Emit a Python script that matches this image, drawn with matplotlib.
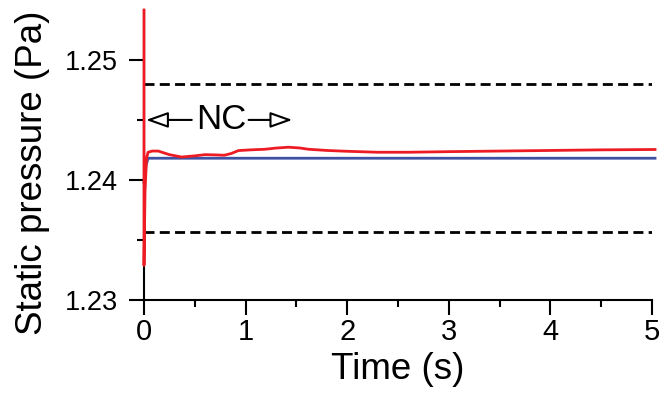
import numpy as np
import matplotlib.pyplot as plt
from matplotlib.ticker import MultipleLocator

plt.rcParams['font.family'] = ['Liberation Sans', 'DejaVu Sans']

# 시간축 (s) 및 정압 (Pa)
t_red = [0, 0, 0.01, 0.025, 0.04, 0.08, 0.14, 0.25, 0.37, 0.5, 0.6, 0.7, 0.79, 0.86,
         0.93, 1.05, 1.19, 1.3, 1.42, 1.53, 1.62, 1.8, 2.0, 2.3, 2.6, 3.0, 3.5, 4.0,
         4.5, 5.03]
p_red = [1.25418, 1.23285, 1.2390, 1.2418, 1.2423, 1.2424, 1.2424, 1.2421, 1.2419,
         1.2420, 1.2421, 1.24208, 1.24205, 1.2422, 1.24244, 1.2425, 1.24255, 1.24265,
         1.24272, 1.24266, 1.24255, 1.24245, 1.24238, 1.2423, 1.2423, 1.24235, 1.2424,
         1.24245, 1.2425, 1.24253]

t_blue = [0, 0.02, 0.04, 5.03]
p_blue = [1.2398, 1.2412, 1.2418, 1.2418]

upper_limit = 1.2480
lower_limit = 1.2356
nc_level = 1.245
nc_left, nc_right, nc_text = 0.02, 1.46, 0.76

red = '#ed1c24'
blue = '#3f51a3'

fig = plt.figure(figsize=(6.67, 4.01), dpi=100)
ax = fig.add_axes([0.2159, 0.2531, 0.7616, 0.7219])

ax.axhline(upper_limit, color='black', lw=2, ls=(0, (3.6, 1.9)))
ax.axhline(lower_limit, color='black', lw=2, ls=(0, (3.6, 1.9)))
ax.plot(t_blue, p_blue, color=blue, lw=2, clip_on=False, zorder=3)
ax.plot(t_red, p_red, color=red, lw=2, clip_on=False, zorder=4)

ax.text(nc_text, nc_level, 'NC', ha='center', va='center', fontsize=25)
arrow = dict(arrowstyle='-|>,head_length=1.35,head_width=0.48', fc='white', ec='black',
             lw=1.5, shrinkA=0, shrinkB=0)
ax.annotate('', xy=(nc_left, nc_level), xytext=(0.47, nc_level), arrowprops=arrow)
ax.annotate('', xy=(nc_right, nc_level), xytext=(1.03, nc_level), arrowprops=arrow)

ax.set_xlim(0, 5)
ax.set_ylim(1.23, 1.25418)
ax.xaxis.set_major_locator(MultipleLocator(1))
ax.xaxis.set_minor_locator(MultipleLocator(0.5))
ax.set_yticks([1.23, 1.24, 1.25])
ax.set_yticklabels(['1.23', '1.24', '1.25'])
ax.yaxis.set_minor_locator(MultipleLocator(0.005))

for side in ['top', 'right']:
    ax.spines[side].set_visible(False)
for side in ['left', 'bottom']:
    ax.spines[side].set_linewidth(1.5)

ax.tick_params(axis='both', which='major', length=10.5, width=1.5, direction='out')
ax.tick_params(axis='both', which='minor', length=5, width=1.5, direction='out')
ax.tick_params(axis='x', labelsize=21, pad=3)
ax.tick_params(axis='y', labelsize=19.5, pad=8)

ax.set_xlabel('Time (s)', fontsize=26.5, labelpad=4)
ax.set_ylabel('Static pressure (Pa)', fontsize=26.5, va='center')
ax.yaxis.set_label_coords(-0.22, 0.437)

fig.savefig('out.png', dpi=100)
